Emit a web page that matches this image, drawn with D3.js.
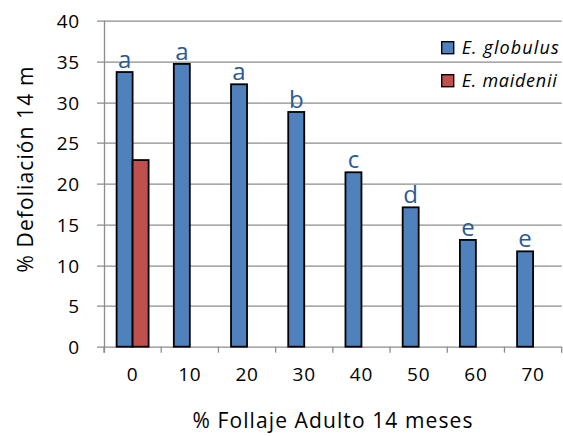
<!DOCTYPE html>
<html>
<head>
<meta charset="utf-8">
<script src="https://cdn.jsdelivr.net/npm/d3@7"></script>
<style>
  body { margin: 0; background: #fff; }
  text { font-family: "Open Sans", Lato, sans-serif; fill: #000; }
</style>
</head>
<body>
<div id="chart"></div>
<script>
// data
var categories = ["0", "10", "20", "30", "40", "50", "60", "70"]
var globulus = [33.7, 34.7, 32.2, 28.8, 21.4, 17.1, 13.1, 11.7]
var maidenii = [22.9, null, null, null, null, null, null, null]
var letters = ["a", "a", "a", "b", "c", "d", "e", "e"]
var yTicks = [0, 5, 10, 15, 20, 25, 30, 35, 40]
var seriesNames = ["E. globulus", "E. maidenii"]
var seriesColors = ["#4F81BD", "#C0504D"]

var W = 563, H = 436
var margin = { top: 20.7, right: 1.3, bottom: 89.3, left: 104 },
  width = W - margin.left - margin.right,
  height = H - margin.top - margin.bottom

var svg = d3.select("#chart")
  .append("svg")
  .attr("width", W)
  .attr("height", H)
  .append("g")
  .attr("transform", "translate(" + margin.left + "," + margin.top + ")")

var x = d3.scaleBand()
  .domain(categories)
  .range([0, width])

var barW = 16
var y = d3.scaleLinear()
  .domain([0, 40])
  .range([height, 0])

// gridlines
svg.append("g")
  .selectAll("line")
  .data(yTicks)
  .enter()
  .append("line")
  .attr("x1", -7)
  .attr("x2", width)
  .attr("y1", function(d) { return Math.round(y(d)) + 0.5 })
  .attr("y2", function(d) { return Math.round(y(d)) + 0.5 })
  .attr("stroke", "#8c8c8c")
  .attr("stroke-width", 1.3)

// Y axis
var yAxis = svg.append("g")
  .call(d3.axisLeft(y).tickValues(yTicks).tickSize(0).tickPadding(24))
yAxis.select(".domain").remove()
yAxis.selectAll("text")
  .style("font-size", "19px")
  .style("letter-spacing", "0.8px")
  .attr("dy", "0.36em")
svg.append("line")
  .attr("x1", 0.5).attr("x2", 0.5)
  .attr("y1", 0).attr("y2", height + 6)
  .attr("stroke", "#8c8c8c")
  .attr("stroke-width", 1.3)

// X axis
var xAxis = svg.append("g")
  .attr("transform", "translate(0," + height + ")")
  .call(d3.axisBottom(x).tickSize(0).tickPadding(21))
xAxis.select(".domain").remove()
xAxis.selectAll("text")
  .style("font-size", "19px")
  .style("letter-spacing", "0.8px")
svg.append("g")
  .selectAll("line")
  .data(d3.range(categories.length + 1))
  .enter()
  .append("line")
  .attr("x1", function(i) { return i * x.bandwidth() })
  .attr("x2", function(i) { return i * x.bandwidth() })
  .attr("y1", height)
  .attr("y2", height + 6)
  .attr("stroke", "#8c8c8c")
  .attr("stroke-width", 1.3)

// bars
var series = [globulus, maidenii]
series.forEach(function(vals, s) {
  svg.append("g")
    .selectAll("rect")
    .data(categories.map(function(c, i) { return { cat: c, v: vals[i] } })
      .filter(function(d) { return d.v != null }))
    .enter()
    .append("rect")
    .attr("x", function(d) { return x(d.cat) + x.bandwidth() / 2 - barW + s * barW })
    .attr("y", function(d) { return y(d.v) })
    .attr("width", barW)
    .attr("height", function(d) { return height - y(d.v) })
    .attr("fill", seriesColors[s])
    .attr("stroke", "#000")
    .attr("stroke-width", 1.8)
})

// significance letters
svg.append("g")
  .selectAll("text")
  .data(categories)
  .enter()
  .append("text")
  .attr("x", function(d) { return x(d) + x.bandwidth() / 2 - barW / 2 })
  .attr("y", function(d, i) { return y(globulus[i]) - 4 })
  .attr("text-anchor", "middle")
  .style("font-size", "24px")
  .style("fill", "#2a5a96")
  .text(function(d, i) { return letters[i] })

// axis titles
svg.append("text")
  .attr("text-anchor", "middle")
  .attr("x", 333 - margin.left)
  .attr("y", 428 - margin.top)
  .style("font-size", "21px")
  .style("letter-spacing", "1.1px")
  .text("% Follaje Adulto 14 meses")

svg.append("text")
  .attr("text-anchor", "middle")
  .attr("transform", "translate(" + (33 - margin.left) + "," + (169 - margin.top) + ")rotate(-90)")
  .style("font-size", "21px")
  .style("letter-spacing", "1.1px")
  .text("% Defoliación 14 m")

// legend
var legendWidths = [97, 95]
var legend = svg.append("g")
  .attr("transform", "translate(" + (441.7 - margin.left) + "," + (41.7 - margin.top) + ")")
seriesNames.forEach(function(name, i) {
  legend.append("rect")
    .attr("x", 0)
    .attr("y", i * 33)
    .attr("width", 12)
    .attr("height", 12)
    .attr("fill", seriesColors[i])
    .attr("stroke", "#000")
    .attr("stroke-width", 1.4)
  legend.append("text")
    .attr("x", 20)
    .attr("y", i * 33 + 12.5)
    .attr("textLength", legendWidths[i])
    .attr("lengthAdjust", "spacing")
    .style("font-size", "18px")
    .style("font-style", "italic")
    .text(name)
})
</script>
</body>
</html>
